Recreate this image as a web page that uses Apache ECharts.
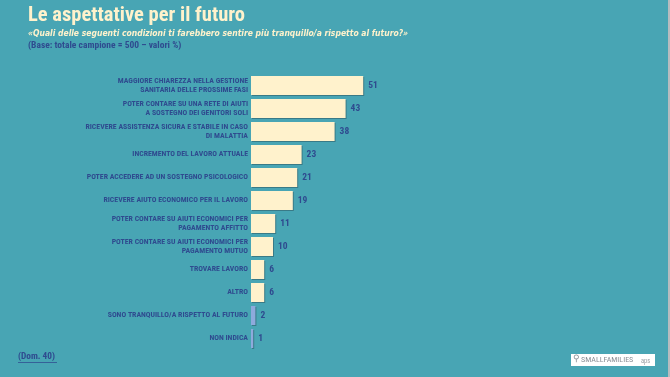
<!DOCTYPE html>
<html>
<head>
<meta charset="utf-8">
<script src="https://cdn.jsdelivr.net/npm/echarts@6/dist/echarts.min.js"></script>
<style>
  html, body { margin: 0; padding: 0; background: #48a5b4; }
  #chart { width: 670px; height: 377px; }
</style>
</head>
<body>
<div id="chart"></div>
<script>
// categories, top to bottom
var categories = [
    'MAGGIORE CHIAREZZA NELLA GESTIONE\nSANITARIA DELLE PROSSIME FASI',
    'POTER CONTARE SU UNA RETE DI AIUTI\nA SOSTEGNO DEI GENITORI SOLI',
    'RICEVERE ASSISTENZA SICURA E STABILE IN CASO\nDI MALATTIA',
    'INCREMENTO DEL LAVORO ATTUALE',
    'POTER ACCEDERE AD UN SOSTEGNO PSICOLOGICO',
    'RICEVERE AIUTO ECONOMICO PER IL LAVORO',
    'POTER CONTARE SU AIUTI ECONOMICI PER\nPAGAMENTO AFFITTO',
    'POTER CONTARE SU AIUTI ECONOMICI PER\nPAGAMENTO MUTUO',
    'TROVARE LAVORO',
    'ALTRO',
    'SONO TRANQUILLO/A RISPETTO AL FUTURO',
    'NON INDICA'
];
var values = [51, 43, 38, 23, 21, 19, 11, 10, 6, 6, 2, 1];
// answers drawn in the second colour
var neutral = ['SONO TRANQUILLO/A RISPETTO AL FUTURO', 'NON INDICA'];

var cream = '#fff2cc', lilac = '#8eaadc', ink = '#2f4b8f', teal = '#48a5b4';
var narrow = '"Roboto Condensed", "DejaVu Sans Condensed", sans-serif';

var chart = echarts.init(document.getElementById('chart'));
var option = {
    backgroundColor: teal,
    animation: false,
    grid: {
        left: 251,
        top: 74,
        width: 220,
        height: 276
    },
    xAxis: {
        type: 'value',
        min: 0,
        max: 100,
        show: false
    },
    yAxis: {
        type: 'category',
        inverse: true,
        data: categories,
        axisLine: { show: false },
        axisTick: { show: false },
        axisLabel: {
            color: ink,
            fontFamily: narrow,
            fontWeight: 'bold',
            fontSize: 7.8,
            lineHeight: 9.2,
            margin: 3,
            align: 'right'
        }
    },
    series: [{
        type: 'bar',
        data: values,
        barWidth: 19,
        itemStyle: {
            color: function (p) {
                return neutral.indexOf(p.name) >= 0 ? lilac : cream;
            },
            shadowColor: 'rgba(40,70,80,0.45)',
            shadowOffsetX: 1,
            shadowOffsetY: 1,
            shadowBlur: 0
        },
        label: {
            show: true,
            position: 'right',
            distance: 5,
            color: ink,
            fontFamily: narrow,
            fontWeight: 'bold',
            fontSize: 9.5
        }
    }],
    graphic: [
        {
            type: 'text', left: 28, top: 5,
            style: { text: 'Le aspettative per il futuro', fill: cream,
                font: 'bold 20.5px ' + narrow }
        },
        {
            type: 'text', left: 28, top: 29,
            style: { text: '«Quali delle seguenti condizioni ti farebbero sentire più tranquillo/a rispetto al futuro?»',
                fill: cream, font: 'italic bold 8.5px "DejaVu Sans Condensed", sans-serif' }
        },
        {
            type: 'text', left: 28, top: 40.5,
            style: { text: '(Base: totale campione = 500 – valori %)', fill: ink,
                font: 'bold 9.5px ' + narrow }
        },
        {
            type: 'text', left: 18, top: 352,
            style: { text: '(Dom. 40)', fill: ink, font: 'bold 9.3px ' + narrow }
        },
        {
            type: 'rect', shape: { x: 18, y: 362, width: 39, height: 0.8 },
            style: { fill: ink }
        },
        {
            type: 'rect', shape: { x: 571, y: 354, width: 84, height: 12 },
            style: { fill: '#ffffff' }
        },
        {
            type: 'text', left: 581, top: 356,
            style: { text: 'SMALLFAMILIES', fill: '#8a8f96', font: '8px ' + narrow }
        },
        {
            type: 'text', left: 641, top: 357.5,
            style: { text: 'aps', fill: '#9aa0a6', font: '6.5px ' + narrow }
        },
        {
            type: 'text', left: 573, top: 354,
            style: { text: '⚲', fill: '#8a8f96', font: '9px sans-serif' }
        },
        {
            type: 'rect', shape: { x: 668, y: 0, width: 2, height: 377 },
            style: { fill: '#b8bcbf' }
        }
    ]
};
chart.setOption(option);
</script>
</body>
</html>
